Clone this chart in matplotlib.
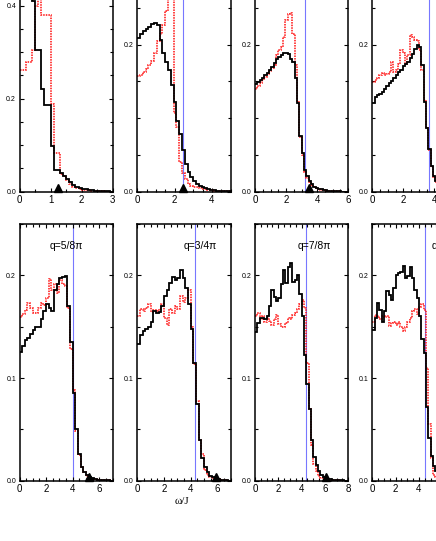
import numpy as np
import matplotlib
matplotlib.use('Agg')
import matplotlib.pyplot as plt
import matplotlib.ticker as ticker
from matplotlib.transforms import ScaledTranslation

plt.rcParams['font.family'] = ['Liberation Sans', 'DejaVu Sans']

# ---- data (spectral weight histograms) ----
bin_width = [0.1, 0.15, 0.15, 0.15, 0.2, 0.2, 0.2, 0.2]
x_max     = [3, 5, 6, 6, 7, 7, 8, 8]
y_max     = [0.5, 0.316, 0.316, 0.316, 0.25, 0.25, 0.25, 0.25]
blue_line = [None, 2.47, 3.22, 3.63, 4.05, 4.33, 4.42, 4.51]
triangle  = [1.24, 2.43, 3.47, 4.6, 5.2, 5.92, 6.1, 6.9]
q_labels  = [None, None, None, None, 'q=5/8π', 'q=3/4π', 'q=7/8π', 'q=π']
q_label_x = [None, None, None, None, 2.26, 3.47, 3.62, 5.05]
q_label_y = 0.229

black1 = [0.55, 0.58, 0.56, 0.50, 0.41, 0.304, 0.304, 0.221, 0.187, 0.187,
          0.098, 0.046, 0.046, 0.040, 0.033, 0.027, 0.021, 0.015, 0.011, 0.0088,
          0.0066, 0.005, 0.004, 0.003, 0.0024, 0.0018, 0.0013, 0.0009, 0.0006, 0.0003]
red1 = [0.261, 0.261, 0.279, 0.279, 0.305, 0.40, 0.43, 0.379, 0.379, 0.379,
        0.189, 0.084, 0.084, 0.038, 0.034, 0.025, 0.016, 0.011, 0.008, 0.006,
        0.0045, 0.0035, 0.0027, 0.002, 0.0015, 0.001, 0.0007, 0.0005, 0.0003, 0.0002]

black2 = [0.209, 0.2145, 0.218, 0.221, 0.224, 0.228, 0.229, 0.226, 0.206, 0.188,
          0.176, 0.165, 0.145, 0.122, 0.096, 0.079, 0.057, 0.038, 0.027, 0.020,
          0.015, 0.011, 0.008, 0.006, 0.0045, 0.0035, 0.0027, 0.002, 0.0015, 0.001,
          0.0008, 0.0005, 0.0003, 0.0002]
red2 = [0.157, 0.159, 0.163, 0.167, 0.172, 0.178, 0.188, 0.205, 0.215, 0.226,
        0.245, 0.275, 0.28, 0.107, 0.088, 0.040, 0.026, 0.017, 0.011, 0.008,
        0.007, 0.006, 0.005, 0.004, 0.003, 0.0025, 0.002, 0.0015, 0.001, 0.0008,
        0.0006, 0.0004, 0.0003, 0.0002]

black3 = [0.146, 0.149, 0.152, 0.155, 0.158, 0.162, 0.166, 0.170, 0.175, 0.181,
          0.183, 0.186, 0.188, 0.189, 0.187, 0.181, 0.176, 0.155, 0.120, 0.076,
          0.053, 0.030, 0.021, 0.015, 0.010, 0.007, 0.005, 0.004, 0.003, 0.0025,
          0.002, 0.0015, 0.001, 0.0008, 0.0006, 0.0004, 0.0003, 0.0002, 0.0001, 0.0001]
red3 = [0.140, 0.144, 0.148, 0.152, 0.156, 0.160, 0.164, 0.168, 0.172, 0.186,
        0.192, 0.197, 0.210, 0.233, 0.242, 0.243, 0.215, 0.172, 0.122, 0.074,
        0.050, 0.027, 0.018, 0.013, 0.009, 0.006, 0.0045, 0.0035, 0.0027, 0.002,
        0.0015, 0.0012, 0.001, 0.0008, 0.0006, 0.0004, 0.0003, 0.0002, 0.0001, 0.0]

black4 = [0.120, 0.129, 0.132, 0.133, 0.135, 0.139, 0.144, 0.148, 0.151, 0.155,
          0.159, 0.163, 0.166, 0.171, 0.173, 0.176, 0.182, 0.187, 0.194, 0.200,
          0.197, 0.172, 0.122, 0.087, 0.058, 0.035, 0.021, 0.014, 0.009, 0.006,
          0.004, 0.003, 0.002, 0.0015, 0.001, 0.0008, 0.0005, 0.0003, 0.0002, 0.0001]
red4 = [0.149, 0.152, 0.155, 0.158, 0.161, 0.158, 0.160, 0.163, 0.176, 0.163,
        0.166, 0.174, 0.192, 0.189, 0.174, 0.186, 0.213, 0.210, 0.206, 0.205,
        0.192, 0.165, 0.124, 0.086, 0.056, 0.034, 0.020, 0.013, 0.008, 0.005,
        0.004, 0.003, 0.002, 0.0015, 0.001, 0.0007, 0.0005, 0.0003, 0.0002, 0.0001]

black5 = [0.125, 0.131, 0.137, 0.139, 0.143, 0.147, 0.150, 0.150, 0.157, 0.165,
          0.172, 0.168, 0.165, 0.186, 0.192, 0.197, 0.198, 0.199, 0.170, 0.135,
          0.085, 0.050, 0.026, 0.013, 0.008, 0.0055, 0.0035, 0.0022, 0.0015, 0.001,
          0.0007, 0.0005, 0.0003, 0.0002, 0.0001]
red5 = [0.159, 0.162, 0.166, 0.173, 0.168, 0.163, 0.163, 0.168, 0.173, 0.171,
        0.178, 0.196, 0.186, 0.192, 0.183, 0.195, 0.192, 0.190, 0.168, 0.128,
        0.088, 0.048, 0.025, 0.013, 0.008, 0.005, 0.003, 0.002, 0.0013, 0.0009,
        0.0006, 0.0004, 0.0003, 0.0002, 0.0001]

black6 = [0.133, 0.142, 0.146, 0.148, 0.150, 0.155, 0.165, 0.163, 0.164, 0.170,
          0.180, 0.186, 0.193, 0.198, 0.195, 0.197, 0.205, 0.197, 0.188, 0.172,
          0.148, 0.115, 0.075, 0.040, 0.022, 0.013, 0.008, 0.005, 0.0035, 0.0025,
          0.0015, 0.001, 0.0006, 0.0003, 0.0001]
red6 = [0.160, 0.167, 0.165, 0.168, 0.172, 0.164, 0.166, 0.165, 0.167, 0.172,
        0.158, 0.152, 0.167, 0.163, 0.170, 0.167, 0.180, 0.174, 0.178, 0.186,
        0.150, 0.114, 0.078, 0.040, 0.026, 0.010, 0.006, 0.004, 0.0025, 0.0018,
        0.0012, 0.0008, 0.0005, 0.0003, 0.0001]

black7 = [0.145, 0.154, 0.158, 0.158, 0.157, 0.160, 0.170, 0.186, 0.179, 0.175,
          0.178, 0.192, 0.205, 0.193, 0.208, 0.212, 0.194, 0.195, 0.200, 0.182,
          0.160, 0.122, 0.094, 0.070, 0.040, 0.023, 0.015, 0.009, 0.006, 0.004,
          0.003, 0.002, 0.0015, 0.001, 0.0007, 0.0005, 0.0003, 0.0002, 0.0001, 0.0001]
red7 = [0.160, 0.163, 0.157, 0.160, 0.155, 0.158, 0.156, 0.152, 0.157, 0.161,
        0.153, 0.150, 0.150, 0.154, 0.158, 0.157, 0.161, 0.163, 0.167, 0.172,
        0.176, 0.168, 0.115, 0.070, 0.035, 0.016, 0.009, 0.005, 0.003, 0.002,
        0.0015, 0.001, 0.0007, 0.0005, 0.0003, 0.0002, 0.0001, 0.0001, 0.0, 0.0]

black8 = [0.147, 0.158, 0.173, 0.166, 0.155, 0.165, 0.185, 0.181, 0.176, 0.188,
          0.200, 0.202, 0.203, 0.209, 0.197, 0.199, 0.208, 0.197, 0.186, 0.178,
          0.160, 0.138, 0.124, 0.072, 0.042, 0.024, 0.014, 0.009, 0.005, 0.003,
          0.002, 0.0015, 0.001, 0.0007, 0.0005, 0.0003, 0.0002, 0.0001, 0.0001, 0.0]
red8 = [0.155, 0.161, 0.160, 0.157, 0.160, 0.159, 0.160, 0.151, 0.154, 0.155,
        0.152, 0.155, 0.150, 0.146, 0.150, 0.155, 0.158, 0.165, 0.167, 0.162,
        0.169, 0.172, 0.166, 0.110, 0.055, 0.022, 0.006, 0.004, 0.003, 0.002,
        0.0015, 0.001, 0.0007, 0.0005, 0.0003, 0.0002, 0.0001, 0.0001, 0.0, 0.0]

blacks = [black1, black2, black3, black4, black5, black6, black7, black8]
reds   = [red1, red2, red3, red4, red5, red6, red7, red8]

# ---- layout (pixels in the 436x541 picture) ----
W, H = 436, 541
lefts = [19.5, 137.3, 255.0, 372.3]
width = 93.2
row_bottom = [191.7, 480.7]
row_height = [232.5, 256.7]

fig = plt.figure(figsize=(W / 100, H / 100), dpi=100)
fig.patch.set_facecolor('white')

for k in range(8):
    row, col = divmod(k, 4)
    ax = fig.add_axes([lefts[col] / W, 1 - row_bottom[row] / H,
                       width / W, row_height[row] / H])

    if blue_line[k] is not None:
        ax.axvline(blue_line[k], color='#7777ff', lw=0.8, zorder=1)

    bw = bin_width[k]
    edges = np.arange(len(reds[k]) + 1) * bw
    ax.stairs(reds[k], edges, baseline=None, color='#ff1010', lw=1.1,
              linestyle=(0, (1, 0.7)), zorder=2)
    edges = np.arange(len(blacks[k]) + 1) * bw
    ax.stairs(blacks[k], edges, baseline=None, color='black', lw=1.3, zorder=3)

    # black triangle sitting on the frequency axis
    trans = ax.transData + ScaledTranslation(0, 3.6 / 100, fig.dpi_scale_trans)
    ax.plot([triangle[k]], [0], marker='^', ms=5.2, color='black',
            transform=trans, clip_on=False, zorder=5)

    if q_labels[k] is not None:
        ax.text(q_label_x[k], q_label_y, q_labels[k], fontsize=7.5,
                ha='left', va='center')

    ax.set_xlim(0, x_max[k])
    ax.set_ylim(0, y_max[k])
    ax.xaxis.set_major_locator(ticker.MultipleLocator(1 if k == 0 else 2))
    ax.xaxis.set_minor_locator(ticker.MultipleLocator(0.5))
    ax.yaxis.set_major_locator(ticker.MultipleLocator(0.2 if row == 0 else 0.1))
    ax.yaxis.set_minor_locator(ticker.MultipleLocator(0.05))
    ax.yaxis.set_major_formatter(ticker.FormatStrFormatter('%.1f'))

    ax.tick_params(which='both', direction='in', top=True, right=True, width=0.8)
    ax.tick_params(which='major', length=3)
    ax.tick_params(which='minor', length=2)
    ax.tick_params(axis='x', labelsize=7, pad=2.5)
    ax.tick_params(axis='y', labelsize=5, pad=2.5)
    for spine in ax.spines.values():
        spine.set_linewidth(1.1)

fig.text(182 / W, 1 - 502 / H, 'ω/J', family=['Liberation Serif', 'DejaVu Serif'],
         fontsize=8, ha='center', va='center')

fig.savefig('out.png', dpi=100)
